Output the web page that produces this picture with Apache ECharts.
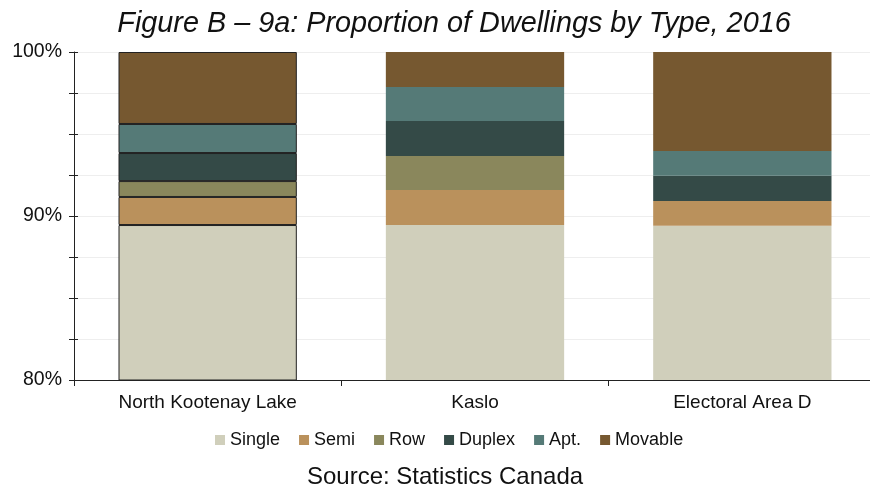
<!DOCTYPE html>
<html><head><meta charset="utf-8">
<script src="https://cdn.jsdelivr.net/npm/echarts@6/dist/echarts.min.js"></script>
<style>html,body{margin:0;padding:0;background:#fff;overflow:hidden}#c{width:880px;height:486px}</style>
</head><body><div id="c"></div>
<script>
var categories = ['North Kootenay Lake', 'Kaslo', 'Electoral Area D'];
var seriesNames = ['Single', 'Semi', 'Row', 'Duplex', 'Apt.', 'Movable'];
var single  = [89.45, 89.45, 89.4];
var semi    = [1.71, 2.14, 1.52];
var row     = [0.97, 2.07, 0.0];
var duplex  = [1.71, 2.13, 1.53];
var apt     = [1.77, 2.08, 1.52];
var movable = [4.39, 2.13, 6.03];
var colors = ['#D0CFBB', '#BA915C', '#8A875C', '#344A47', '#557A77', '#765830'];
var allValues = [single, semi, row, duplex, apt, movable];

var FONT = 'Liberation Sans';
var series = allValues.map(function (vals, i) {
  return {
    name: seriesNames[i],
    type: 'bar',
    stack: 'total',
    barWidth: '66.7%',
    itemStyle: { color: colors[i] },
    data: vals.map(function (v, j) {
      return j === 0 ? { value: v, itemStyle: { borderColor: '#222', borderWidth: 1 } } : v;
    })
  };
});

var chart = echarts.init(document.getElementById('c'), null, { renderer: 'canvas' });
chart.setOption({
  animation: false,
  backgroundColor: '#fff',
  title: [{
    text: 'Figure B \u2013 9a: Proportion of Dwellings by Type, 2016',
    left: 449, top: 4, textAlign: 'center',
    textStyle: { fontFamily: FONT, fontStyle: 'italic', fontWeight: 'normal', fontSize: 28.8, color: '#111' }
  }, {
    text: 'Source: Statistics Canada',
    left: 440, top: 460, textAlign: 'center',
    textStyle: { fontFamily: FONT, fontWeight: 'normal', fontSize: 24, color: '#111' }
  }],
  legend: {
    data: seriesNames,
    left: 210, top: 426,
    itemWidth: 10, itemHeight: 10, itemGap: 19,
    icon: 'rect',
    textStyle: { fontFamily: FONT, fontSize: 18, color: '#111', padding: [0, 0, 0, 0] }
  },
  grid: { left: 74, top: 52, width: 802, height: 328, containLabel: false },
  xAxis: {
    type: 'category',
    data: categories,
    axisLine: { lineStyle: { color: '#222', width: 1 } },
    axisTick: { show: true, length: 6, lineStyle: { color: '#222' } },
    axisLabel: { fontFamily: FONT, fontSize: 19, color: '#111', margin: 13 }
  },
  yAxis: [{
    type: 'value',
    min: 80, max: 100, interval: 2.5,
    axisLine: { show: true, lineStyle: { color: '#222' } },
    axisTick: { show: true, length: 5, lineStyle: { color: '#222' } },
    splitLine: { show: true, lineStyle: { color: '#eeeeee' } },
    axisLabel: {
      fontFamily: FONT, fontSize: 19.5, color: '#111', margin: 12,
      formatter: function (v) { return (Math.abs(v % 10) < 1e-6) ? v + '%' : ''; }
    }
  }, {
    type: 'value', position: 'left', offset: 0,
    min: 80, max: 100, interval: 2.5,
    axisLine: { show: false },
    axisTick: { show: true, inside: true, length: 4, lineStyle: { color: '#222' } },
    splitLine: { show: false },
    axisLabel: { show: false }
  }],
  series: series
});
</script></body></html>
